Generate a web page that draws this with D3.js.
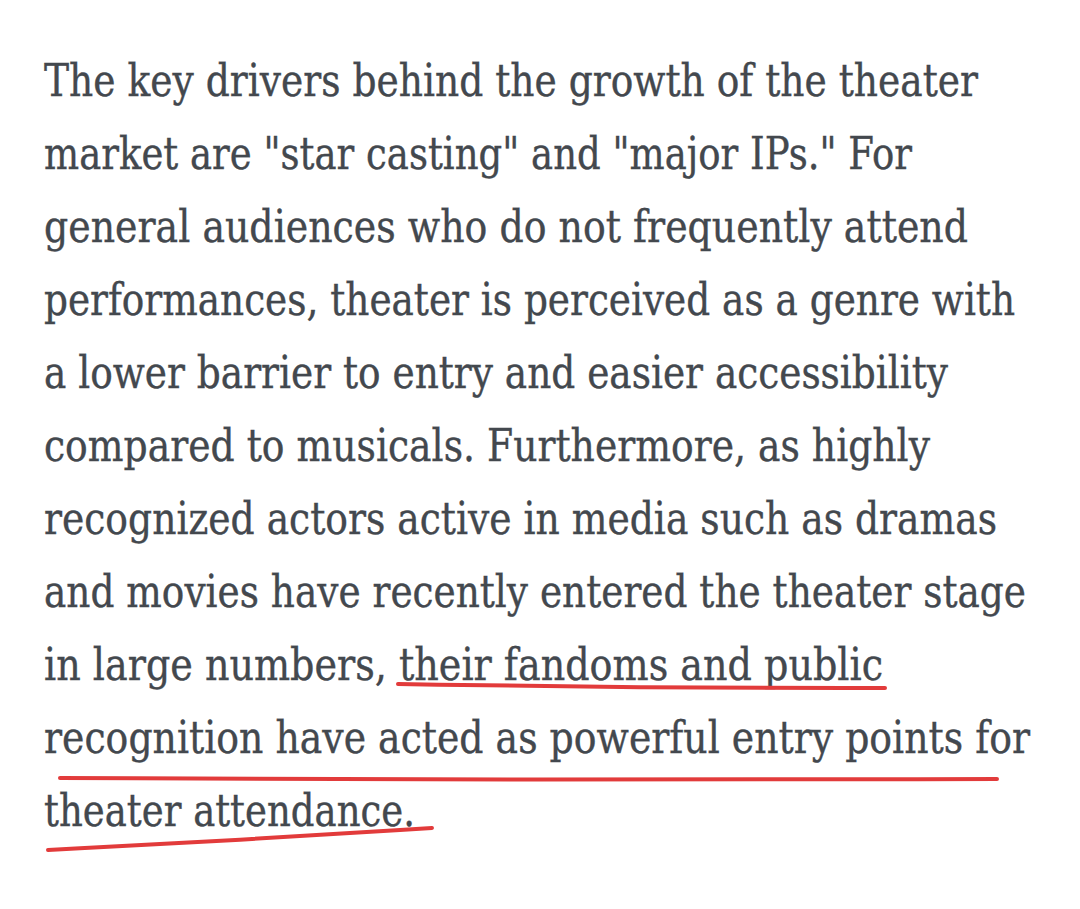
<!DOCTYPE html>
<html><head><meta charset="utf-8">
<script src="https://cdn.jsdelivr.net/npm/d3@7"></script>
<style>body{margin:0;background:#fff}</style>
</head><body>
<svg id="page" width="1080" height="909"></svg>
<script>
// text lines of the paragraph
var lines = [
  'The key drivers behind the growth of the theater',
  'market are "star casting" and "major IPs." For',
  'general audiences who do not frequently attend',
  'performances, theater is perceived as a genre with',
  'a lower barrier to entry and easier accessibility',
  'compared to musicals. Furthermore, as highly',
  'recognized actors active in media such as dramas',
  'and movies have recently entered the theater stage',
  'in large numbers, their fandoms and public',
  'recognition have acted as powerful entry points for',
  'theater attendance.'
];
// right end of each line
var lineEnds = [978, 912, 968, 1015, 948, 930, 997, 1026, 883, 1030, 415];
// hand-drawn red underlines (x, y)
var strokes = [
  [[398,684],[640,688],[885,688]],
  [[60,778],[520,780],[997,779]],
  [[48,850],[240,840],[432,828]]
];

var svg = d3.select('#page');
var y = d3.scaleLinear().domain([0, 1]).range([96, 169]);
var left = 44;

svg.selectAll('text.l').data(lines).enter().append('text')
  .attr('class', 'l')
  .attr('x', left)
  .attr('y', function(d, i){ return y(i); })
  .attr('textLength', function(d, i){ return lineEnds[i] - left; })
  .attr('lengthAdjust', 'spacingAndGlyphs')
  .style('font-family', '"DejaVu Serif", serif')
  .style('font-size', '45px')
  .style('fill', '#43484e')
  .style('stroke', '#43484e')
  .style('stroke-width', 0.4)
  .text(function(d){ return d; });

var line = d3.line().curve(d3.curveBasis);
svg.selectAll('path.u').data(strokes).enter().append('path')
  .attr('class', 'u')
  .attr('d', line)
  .style('fill', 'none')
  .style('stroke', '#e23b3b')
  .style('stroke-width', 4)
  .style('stroke-linecap', 'round');
</script>
</body></html>
